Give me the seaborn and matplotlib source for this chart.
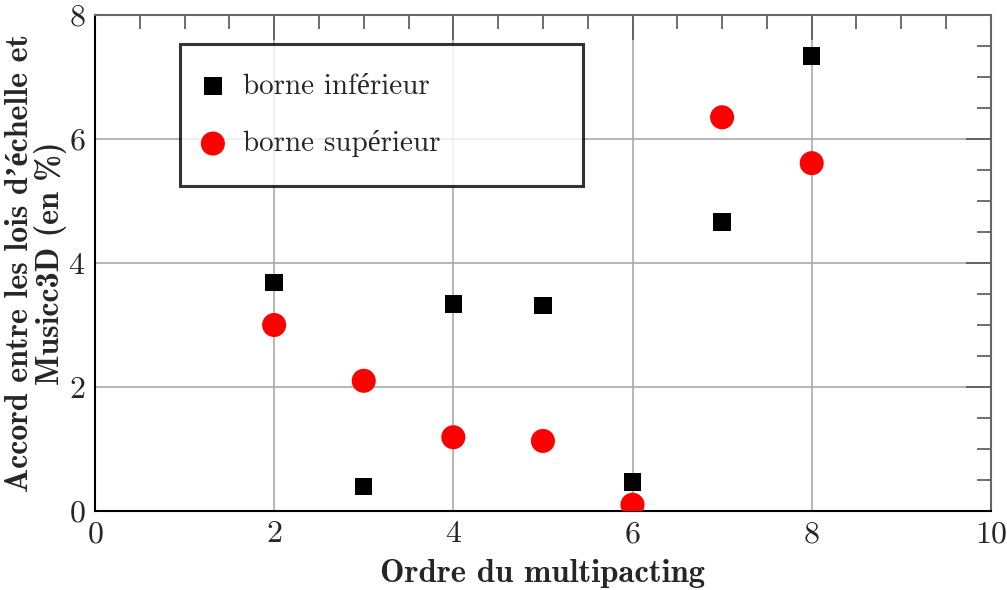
import matplotlib
matplotlib.use("Agg")
import matplotlib.pyplot as plt
import seaborn as sns
from matplotlib.ticker import MultipleLocator

# Données
ordre = [2, 3, 4, 5, 6, 7, 8]
borne_inf = [3.69, 0.40, 3.34, 3.31, 0.47, 4.66, 7.34]
borne_sup = [3.00, 2.10, 1.19, 1.13, 0.10, 6.35, 5.61]

sns.set_style("white")
plt.rcParams["font.family"] = ["cmr10", "Liberation Serif"]
plt.rcParams["mathtext.fontset"] = "cm"
plt.rcParams["axes.formatter.use_mathtext"] = True

fig, ax = plt.subplots(figsize=(10.07, 5.90), dpi=100)
fig.subplots_adjust(left=0.0943, right=0.984, top=0.9746, bottom=0.1339)

sns.scatterplot(x=ordre, y=borne_inf, marker="s", s=155, color="black",
                edgecolor="none", label="borne inférieur", ax=ax, zorder=3)
sns.scatterplot(x=ordre, y=borne_sup, marker="o", s=300, color="#ff0000",
                edgecolor="none", label="borne supérieur", ax=ax, zorder=3)

ax.set_xlim(0, 10)
ax.set_ylim(0, 8)
ax.xaxis.set_major_locator(MultipleLocator(2))
ax.xaxis.set_minor_locator(MultipleLocator(0.5))
ax.yaxis.set_major_locator(MultipleLocator(2))
ax.yaxis.set_minor_locator(MultipleLocator(0.5))
ax.tick_params(which="both", direction="in", top=True, right=True,
               color="#555555", labelsize=23, width=1.2)
ax.tick_params(which="major", length=18, pad=7)
ax.tick_params(which="minor", length=10)
ax.grid(True, which="major", color="#aaaaaa", linewidth=1.2)

for s in ["left", "bottom"]:
    ax.spines[s].set_color("black")
    ax.spines[s].set_linewidth(1.5)
for s in ["top", "right"]:
    ax.spines[s].set_color("#666666")
    ax.spines[s].set_linewidth(1.5)

ax.set_xlabel("Ordre du multipacting", fontsize=23.5, fontweight="bold",
              family=["cmb10", "Liberation Serif"], labelpad=8)
ax.set_ylabel("Accord entre les lois d’échelle et\nMusicc3D (en %)",
              fontsize=23, fontweight="bold",
              family=["cmb10", "Liberation Serif"],
              linespacing=1.0, labelpad=1)

leg = ax.legend(loc="upper left", bbox_to_anchor=(0.095, 0.661, 0.45, 0.2805),
                mode="expand", fontsize=21, frameon=True, fancybox=False,
                borderaxespad=0, borderpad=1.0, labelspacing=1.05,
                handlelength=0.25, handletextpad=0.9)
leg.get_frame().set_edgecolor("black")
leg.get_frame().set_linewidth(2.2)

fig.savefig("out.png", dpi=100)
